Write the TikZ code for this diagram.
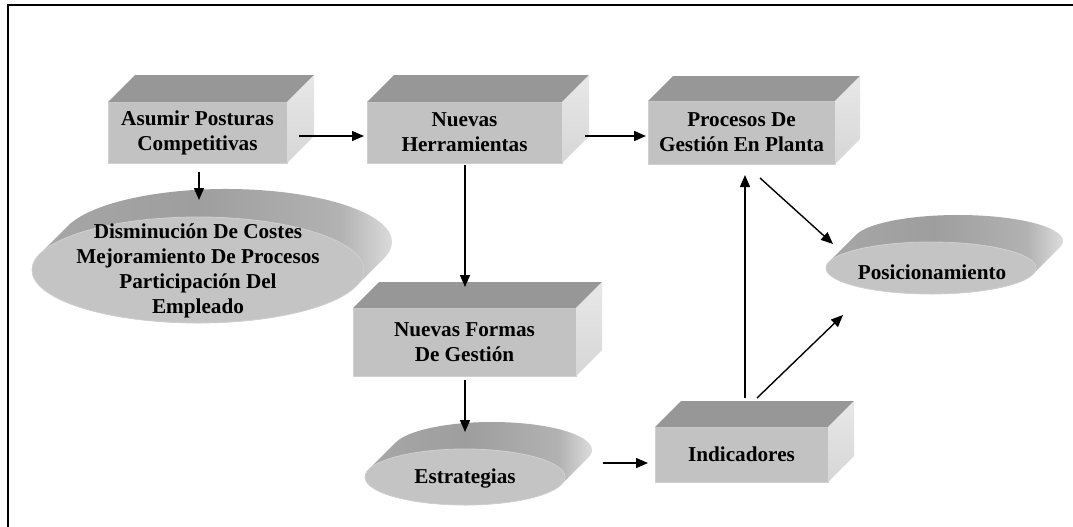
\documentclass[tikz,border=0pt]{standalone}
\usepackage{fontspec}
\setmainfont{Liberation Serif}
\usetikzlibrary{calc,arrows.meta,shapes.geometric}

\definecolor{boxfront}{HTML}{C2C2C2}
\definecolor{boxtop}{HTML}{979797}
\definecolor{boxsideA}{HTML}{E8E8E8}
\definecolor{boxsideB}{HTML}{D6D6D6}
\definecolor{boxedge}{HTML}{D0D0D0}
\definecolor{diskfront}{HTML}{C4C4C4}
\definecolor{diskA}{HTML}{A8A8A8}
\definecolor{diskB}{HTML}{9E9E9E}
\definecolor{diskC}{HTML}{B2B2B2}
\definecolor{diskD}{HTML}{EAEAEA}

% band of the extruded disks: darker on the left, bright on the right
\pgfdeclarehorizontalshading{diskside}{100bp}{color(0bp)=(diskA); color(25bp)=(diskA);
  color(48bp)=(diskB); color(66bp)=(diskC); color(75bp)=(diskD); color(100bp)=(diskD)}

\tikzset{
  boxnode/.style={rectangle, fill=boxfront, draw=boxedge, line width=0.8pt,
    inner sep=0pt, outer sep=0pt, align=center,
    font=\fontsize{21.2pt}{25pt}\selectfont\bfseries},
  diskface/.style={ellipse, fill=diskfront, draw=boxedge, line width=0.8pt,
    inner sep=0pt, outer sep=0pt},
  disktext/.style={align=center, inner sep=0pt,
    font=\fontsize{21.2pt}{25pt}\selectfont\bfseries},
  arr/.style={line width=1.4pt, -{Triangle[length=12pt,width=10pt]}},
}

% top and right faces of a box whose front face is node #1, depth #2
\newcommand\boxdepth[2]{%
  \fill[boxtop] (#1.north west) -- ++(#2,-#2) -- ($(#1.north east)+(#2,-#2)$)
    -- (#1.north east) -- cycle;
  \shade[top color=boxsideA, bottom color=boxsideB] (#1.north east) -- ++(#2,-#2)
    -- ($(#1.south east)+(#2,-#2)$) -- (#1.south east) -- cycle;
}

% extruded band of a disk: centre (#1,#2), radii #3,#4, depth #5
\newcommand\diskband[5]{%
  \pgfmathsetmacro\dang{atan(#4/#3)}%
  \shade[shading=diskside]
    ($(#1,#2)+({#3*cos(180+\dang)},{#4*sin(180+\dang)})$)
    arc[start angle=180+\dang, end angle=\dang, x radius=#3, y radius=#4]
    -- ++(#5,-#5)
    arc[start angle=\dang, end angle=\dang-180, x radius=#3, y radius=#4]
    -- cycle;
}

\begin{document}
\begin{tikzpicture}[x=1pt,y=-1pt]
\useasboundingbox (0,0) rectangle (1073,527);
\fill[white] (0,0) rectangle (1073,527);

% frame
\draw[line width=2pt] (7.7,527) -- (7.7,5) -- (1073,5);

% boxes
\node[boxnode, minimum width=179pt, minimum height=61pt] (asumir) at (197.5,132.5)
  {Asumir Posturas\\Competitivas};
\boxdepth{asumir}{27}
\node[boxnode, minimum width=195pt, minimum height=61pt] (herr) at (464.5,132.5)
  {Nuevas\\Herramientas};
\boxdepth{herr}{27}
\node[boxnode, minimum width=187pt, minimum height=63pt] (procesos) at (741.5,132.5)
  {Procesos De\\Gestión En Planta};
\boxdepth{procesos}{25}
\node[boxnode, minimum width=223pt, minimum height=68pt] (formas) at (464.5,342)
  {Nuevas Formas\\De Gestión};
\boxdepth{formas}{26}
\node[boxnode, minimum width=173pt, minimum height=55pt] (indic) at (741.5,454.5)
  {Indicadores};
\boxdepth{indic}{26}

% disks
\diskband{198}{270}{166}{53}{28}
\node[diskface, minimum width=332pt, minimum height=106pt] (dism) at (198,270) {};
\node[disktext] (dismtext) at (198,271)
  {Disminución De Costes\\Mejoramiento De Procesos\\Participación Del\\Empleado};

\diskband{465}{477}{100}{28}{27}
\node[diskface, minimum width=200pt, minimum height=56pt] (estr) at (465,477) {};
\node[disktext] (estrtext) at (465,478) {Estrategias};

\diskband{931}{268}{105}{26}{27}
\node[diskface, minimum width=210pt, minimum height=52pt] (posic) at (931,268) {};
\node[disktext] (posictext) at (932,272) {Posicionamiento};

% connectors
\draw[arr] ($(asumir.east)+(12,3.5)$) -- ($(herr.west)+(-3,3.5)$);
\draw[arr] ($(asumir.south)+(1.5,9)$) -- ($(dism.north)+(1,-17)$);
\draw[arr] ($(herr.east)+(23,3.5)$) -- ($(procesos.west)+(-2,3.5)$);
\draw[arr] ($(herr.south)+(0.5,2)$) -- ($(formas.north)+(0.5,-21)$);
\draw[arr] ($(formas.south)+(0.5,4)$) -- ($(estr.north)+(0,-17)$);
\draw[arr] ($(estr.east)+(38,-14)$) -- ($(indic.west)+(-7,8.5)$);
\draw[arr] ($(indic.north)+(3.5,-29)$) -- ($(procesos.south)+(3.5,11)$);
\draw[arr] ($(procesos.south)+(18.5,14)$) -- ($(posic.west)+(7,-24)$);
\draw[arr] ($(indic.north)+(15.5,-29)$) -- ($(posic.west)+(17,47)$);
\end{tikzpicture}
\end{document}
